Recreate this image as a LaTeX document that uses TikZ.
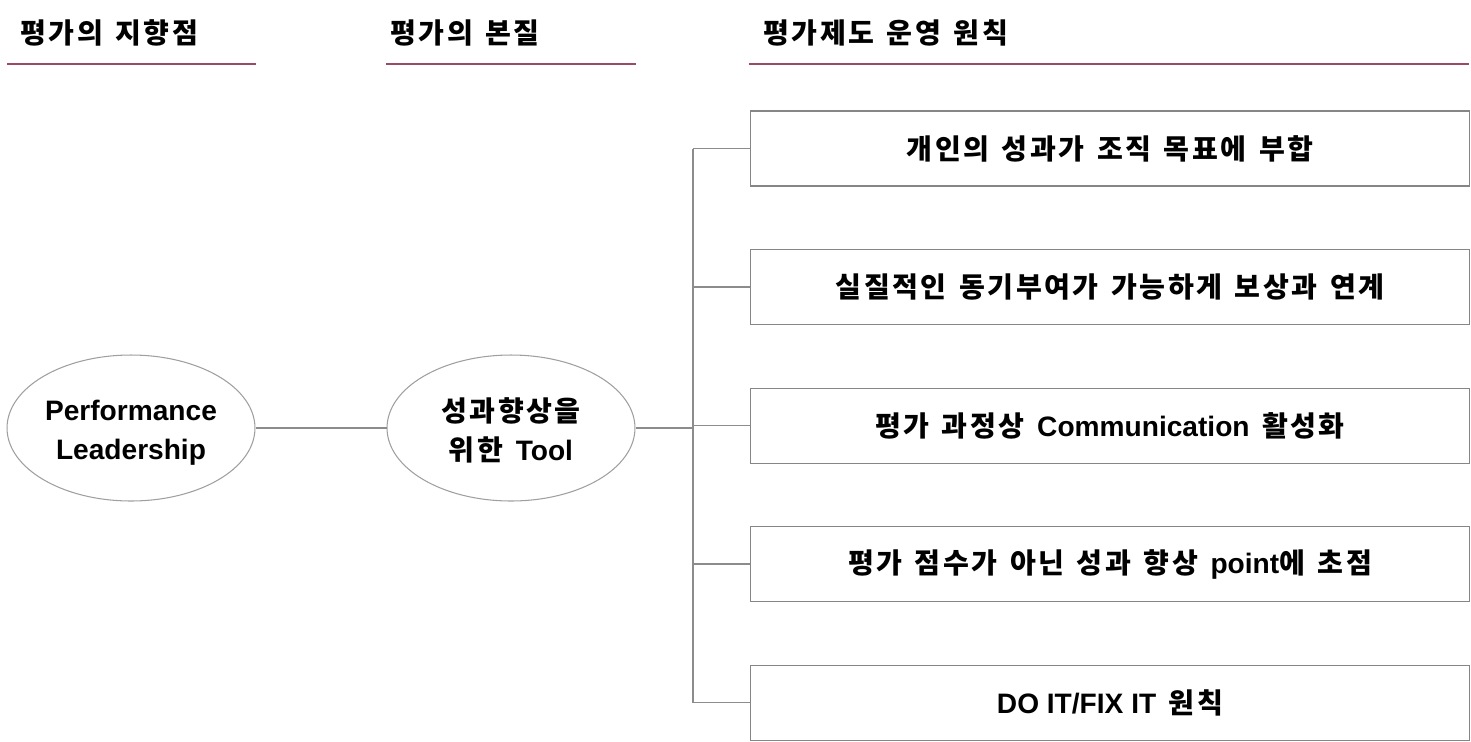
\documentclass[tikz,border=0pt]{standalone}
\usepackage{fontspec}
\setmainfont{Noto Sans CJK KR}[LetterSpace=9,WordSpace=1.4]
\newfontfamily\en{Liberation Sans}
\usetikzlibrary{shapes.geometric,positioning}
\definecolor{rulered}{HTML}{9A4A62}
\definecolor{linegray}{HTML}{8C8C8C}
\newcommand{\lowered}[2]{\raisebox{-#1}[\height][\depth]{#2}}

\begin{document}
\begin{tikzpicture}[x=0.02cm,y=-0.02cm,node distance=1.25cm]
  \tikzstyle{head}=[anchor=west,inner sep=0pt,font=\fontsize{16}{22}\selectfont\bfseries]
  \tikzstyle{rule}=[rulered,line width=1.1pt]
  \tikzstyle{oval}=[ellipse,draw=gray!75,line width=0.6pt,inner sep=0pt,minimum width=4.96cm,minimum height=2.92cm,align=center,font=\fontsize{16}{22}\selectfont\bfseries]
  \tikzstyle{box}=[draw=gray!95,line width=0.6pt,minimum width=14.4cm,minimum height=1.5cm,align=center,font=\fontsize{16}{22}\selectfont\bfseries]
  \tikzstyle{link}=[linegray,line width=0.7pt]
  \useasboundingbox (0,0) rectangle (1471,741);
  % headers
  \node[head] (aim) at (20,33) {평가의 지향점};
  \node[head] (nature) at (390,33) {평가의 본질};
  \node[head] (rules) at (763,33) {평가제도 운영 원칙};
  \draw[rule] (7,64) -- (256,64);
  \draw[rule] (386,64) -- (636,64);
  \draw[rule] (749,64) -- (1469,64);
  % ellipses
  \node[oval] (perf) at (131,428) {\lowered{2.8pt}{\en\bfseries Performance}\\\lowered{2.8pt}{\en\bfseries Leadership}};
  \node[oval] (tool) at (511,428) {\lowered{1.5pt}{성과향상을}\\\lowered{1.5pt}{위한 {\en\bfseries Tool}}};
  % principles
  \node[box] (p1) at (1110,148.5) {개인의 성과가 조직 목표에 부합};
  \node[box,below=of p1] (p2) {실질적인 동기부여가 가능하게 보상과 연계};
  \node[box,below=of p2] (p3) {평가 과정상 {\en\bfseries Communication} 활성화};
  \node[box,below=of p3] (p4) {평가 점수가 아닌 성과 향상 {\en\bfseries point}에 초점};
  \node[box,below=of p4] (p5) {{\en\bfseries DO IT/FIX IT} 원칙};
  \coordinate (fork) at (693,428);
  \draw[link] (perf) -- (tool);
  \draw[link] (tool.east) -- (fork);
  \draw[link] (fork |- p1.west) -- (fork |- p5.west);
  \foreach \p in {p1,p2,p3,p4,p5}
    \draw[link] (fork |- \p.west) -- (\p.west);
\end{tikzpicture}
\end{document}
